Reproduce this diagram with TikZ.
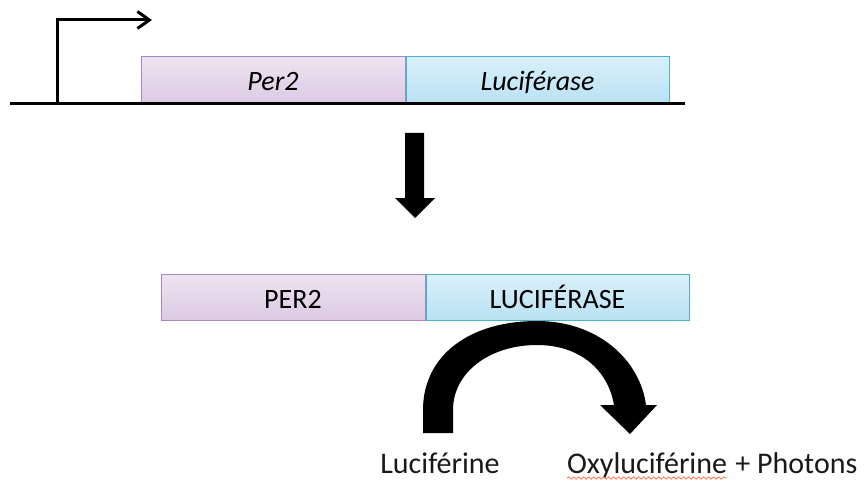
\documentclass[tikz,border=0pt]{standalone}
\usepackage{fontspec}
\setmainfont{Carlito}
\usetikzlibrary{arrows.meta, positioning, decorations.pathmorphing}
\definecolor{perline}{HTML}{A38BBF}
\definecolor{pertop}{HTML}{EEE4F1}
\definecolor{perbot}{HTML}{DCCAE3}
\definecolor{lucline}{HTML}{4BB0D0}
\definecolor{luctop}{HTML}{D9F0F9}
\definecolor{lucbot}{HTML}{B9E2F3}
\begin{document}
\begin{tikzpicture}[
  x=1pt, y=-1pt, >=Stealth,
  font=\fontsize{28}{32}\selectfont,
  perbox/.style={rectangle, draw=perline, top color=pertop, bottom color=perbot,
                 line width=1pt, minimum width=264pt, minimum height=46pt,
                 inner sep=0pt, text height=22pt, text depth=0pt},
  lucbox/.style={rectangle, draw=lucline, top color=luctop, bottom color=lucbot,
                 line width=1pt, minimum width=263pt, minimum height=46pt,
                 inner sep=0pt, text height=22pt, text depth=0pt},
  dna/.style={draw=black, line width=3pt},
  lbl/.style={inner sep=0pt, anchor=base, text=black!90,
              font=\fontsize{30}{34}\selectfont}]
  \useasboundingbox (0,0) rectangle (866,481);
  \node[perbox] (pergene) at (273,80) {\itshape Per2};
  \node[lucbox, right=0pt of pergene] (lucgene) {\itshape Luciférase};
  \coordinate (dnastart) at (10,104);
  \coordinate (dnaend) at (685,104);
  \coordinate (tss) at (57,104);
  \coordinate (tssend) at (152,20);
  \draw[dna] (dnastart) -- (dnaend);
  \draw[dna, -{Straight Barb[length=12pt, width=17pt]}] (tss) |- (tssend);
  \fill[black] (405,133) -- (424,133) -- (424,198) -- (435,198) -- (415,218)
               -- (395,198) -- (405,198) -- cycle;
  \node[perbox] (perprot) at (293,297) {PER2};
  \node[lucbox, right=0pt of perprot] (lucprot) {LUCIFÉRASE};
  \fill[black] (423,433) -- (423,410) .. controls (423,355) and (470,321) .. (537,321)
               .. controls (598,321) and (640,360) .. (646,405)
               -- (657,405) -- (630,434) -- (600,405) -- (614,405)
               .. controls (608,370) and (580,345) .. (537,345)
               .. controls (490,345) and (453,372) .. (453,410) -- (453,433) -- cycle;
  \node[lbl] (lucine) at (440,473) {Luciférine};
  \node[lbl, anchor=base west] (oxy) at (567,473) {Oxyluciférine};
  \node[lbl, anchor=base west] (photons) at ([xshift=8pt]oxy.base east) {+ Photons};
  \draw[red!55!orange!70, line width=0.8pt, decorate,
        decoration={snake, amplitude=1.2pt, segment length=5pt}]
       ([yshift=-5pt]oxy.base west) -- ([yshift=-5pt]oxy.base east);
\end{tikzpicture}
\end{document}
